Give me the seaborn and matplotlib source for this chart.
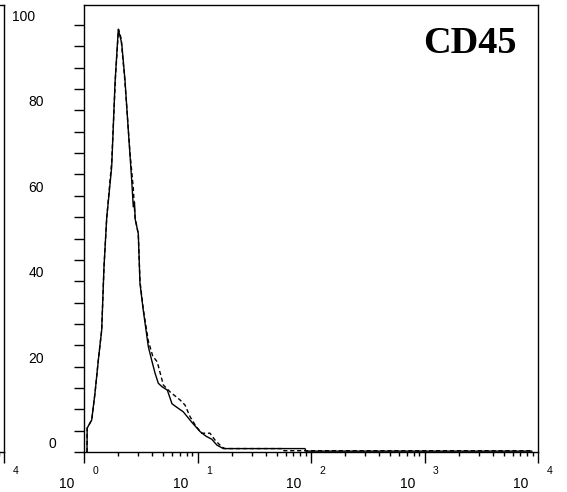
import matplotlib
matplotlib.use("Agg")
import pandas as pd
import matplotlib.pyplot as plt
import seaborn as sns
from matplotlib.ticker import LogLocator, NullFormatter


# fluorescence intensity (log axis) and % of max count
solid_fl = [1.063, 1.066, 1.169, 1.250, 1.337, 1.432, 1.500, 1.585, 1.754, 1.876,
            2.005, 2.148, 2.297, 2.456, 2.631, 2.718, 2.786, 2.825, 3.008, 3.113,
            3.328, 3.686, 3.947, 4.224, 4.516, 4.866, 5.42, 5.96, 6.47, 7.50,
            8.89, 10.52, 11.88, 13.34, 14.85, 16.88, 88.5, 90.3, 8850]
solid_pct = [0, 5.6, 7.5, 13.8, 21.5, 28.6, 43.3, 54.8, 66.8, 86.4,
             99.0, 95.8, 87.1, 75.4, 63.7, 57.4, 58.5, 54.5, 51.2, 39.5,
             33.2, 24.7, 21.5, 18.5, 16.1, 15.3, 14.5, 11.3, 10.6, 9.4,
             7.0, 4.8, 3.7, 3.0, 1.6, 0.8, 0.8, 0.2, 0.2]

dashed_fl = [1.063, 1.066, 1.169, 1.250, 1.337, 1.432, 1.500, 1.585, 1.754, 1.895,
             2.014, 2.118, 2.184, 2.274, 2.392, 2.543, 2.718, 2.814, 3.008, 3.113,
             3.328, 3.686, 4.03, 4.42, 5.00, 5.72, 7.01, 7.76, 8.59, 9.70,
             10.89, 12.88, 14.26, 16.34, 17.47, 56.6, 57.8, 8850]
dashed_pct = [0, 5.6, 7.5, 13.8, 21.5, 28.6, 43.3, 54.8, 68.0, 88.0,
              99.0, 97.0, 93.0, 88.0, 80.0, 70.0, 61.8, 55.0, 51.0, 40.0,
              33.5, 26.0, 22.5, 21.1, 15.7, 14.1, 12.2, 11.0, 8.3, 6.0,
              4.4, 4.4, 2.8, 1.2, 0.8, 0.8, 0.3, 0.3]

y_ticks = [0, 20, 40, 60, 80, 100]
decades = [0, 1, 2, 3, 4]
marker = "CD45"


def style_axes(ax, y_labels=True, x_decades=decades, x_base=True):
    ax.set_xscale('log')
    ax.set_xlim(1, 1e4)
    ax.set_ylim(0, 104.7)
    ax.set_xticks([10 ** d for d in decades])
    ax.set_xticklabels([])
    ax.xaxis.set_minor_locator(LogLocator(base=10, subs=range(2, 10)))
    ax.xaxis.set_minor_formatter(NullFormatter())
    ax.set_yticks(y_ticks)
    ax.set_yticks(range(0, 101, 5), minor=True)
    ax.set_yticklabels([])
    ax.tick_params(axis='x', which='major', length=8, width=1, direction='out', color='black')
    ax.tick_params(axis='x', which='minor', length=3.2, width=1, direction='out', color='black')
    ax.tick_params(axis='y', which='both', length=7.5, width=1, direction='out', color='black')
    for s in ax.spines.values():
        s.set_visible(True)
        s.set_linewidth(1.0)
        s.set_color('black')
    ax.set_xlabel('')
    ax.set_ylabel('')

    # y labels sit a little above their ticks, staggered like the original
    if y_labels:
        for v in y_ticks:
            dx = -60 if v == 100 else (-32 if v == 0 else -48)
            ax.annotate(str(v), xy=(0, v), xycoords=('axes fraction', 'data'),
                        xytext=(dx, 8), textcoords='offset pixels',
                        ha='center', va='center', fontsize=10, annotation_clip=False)

    # "10" with the exponent placed down-right of it
    for d in x_decades:
        if x_base:
            ax.annotate("10", xy=(10 ** d, 0), xycoords=('data', 'axes fraction'),
                        xytext=(-17, -32), textcoords='offset pixels',
                        ha='center', va='center', fontsize=10, annotation_clip=False)
        ax.annotate(str(d), xy=(10 ** d, 0), xycoords=('data', 'axes fraction'),
                    xytext=(11.5, -19), textcoords='offset pixels',
                    ha='center', va='center', fontsize=7.5, annotation_clip=False)


sns.set_style("ticks")
plt.rcParams['font.family'] = ['Liberation Sans', 'DejaVu Sans']
plt.rcParams['text.color'] = 'black'

df = pd.concat([
    pd.DataFrame({'fl': solid_fl, 'pct': solid_pct, 'stain': 'stained'}),
    pd.DataFrame({'fl': dashed_fl, 'pct': dashed_pct, 'stain': 'control'}),
])

fig = plt.figure(figsize=(5.67, 4.92), dpi=100)
W, H = 567, 492

# neighbouring panel, mostly cut off at the left edge
ax_left = fig.add_axes([(4 - 454) / W, 40 / H, 454 / W, 447 / H])
style_axes(ax_left, y_labels=False, x_decades=[4], x_base=False)

ax = fig.add_axes([84 / W, 40 / H, 454 / W, 447 / H])
sns.lineplot(data=df, x='fl', y='pct', style='stain', color='black',
             dashes={'stained': '', 'control': (3, 2)}, linewidth=1.0,
             estimator=None, sort=False, legend=False, ax=ax)
style_axes(ax)

ax.text(0.85, 0.893, marker, transform=ax.transAxes, ha='center', va='baseline',
        fontsize=27.5, fontweight='bold', color='black',
        family=['Liberation Serif', 'DejaVu Serif'])

fig.savefig('out.png', dpi=100)
